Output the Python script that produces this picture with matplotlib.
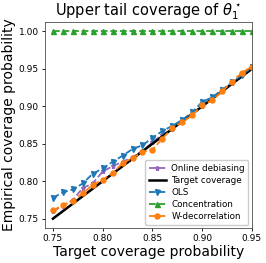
import numpy as np
import matplotlib
matplotlib.use("Agg")
import matplotlib.pyplot as plt

# target coverage levels
target = [0.75, 0.76, 0.77, 0.78, 0.79, 0.80, 0.81, 0.82, 0.83, 0.84, 0.85,
          0.86, 0.87, 0.88, 0.89, 0.90, 0.91, 0.92, 0.93, 0.94, 0.95]

online_debiasing = [0.760, 0.767, 0.775, 0.791, 0.797, 0.813, 0.820, 0.826, 0.832, 0.840, 0.852,
                    0.862, 0.870, 0.880, 0.890, 0.901, 0.910, 0.921, 0.931, 0.943, 0.953]
ols = [0.778, 0.785, 0.789, 0.797, 0.810, 0.817, 0.826, 0.834, 0.843, 0.848, 0.858,
       0.867, 0.874, 0.882, 0.892, 0.906, 0.912, 0.922, 0.932, 0.942, 0.952]
concentration = [1.0] * len(target)
w_decorrelation = [0.761, 0.768, 0.774, 0.784, 0.795, 0.802, 0.811, 0.824, 0.831, 0.839, 0.842,
                   0.857, 0.871, 0.879, 0.888, 0.902, 0.908, 0.920, 0.933, 0.945, 0.953]

fig = plt.figure(figsize=(2.66, 2.63), dpi=100)
ax = fig.add_axes([0.169, 0.133, 0.778, 0.783])

ms = 3.6
ax.plot(target, online_debiasing, '--*', color='tab:purple', ms=ms, lw=1.3, label='Online debiasing')
ax.plot(target, target, '-', color='black', lw=1.8, label='Target coverage')
ax.plot(target, ols, '--v', color='tab:blue', ms=ms, lw=1.3, label='OLS')
ax.plot(target, concentration, '--^', color='tab:green', ms=ms, lw=1.3, label='Concentration')
ax.plot(target, w_decorrelation, '--o', color='tab:orange', ms=ms, lw=1.3, label='W-decorrelation')

ax.set_xlim(0.742, 0.95)
ax.set_ylim(0.7375, 1.0125)
ax.set_xticks([0.75, 0.80, 0.85, 0.90, 0.95])
ax.set_yticks([0.75, 0.80, 0.85, 0.90, 0.95, 1.00])
ax.tick_params(labelsize=6.5, length=2.5, width=0.6, pad=2)
for s in ax.spines.values():
    s.set_linewidth(0.6)
    s.set_color('0.3')

ax.set_title(r'Upper tail coverage of $\theta_1^\star$', fontsize=10.5, pad=3)
ax.set_xlabel('Target coverage probability', fontsize=10, labelpad=1)
ax.set_ylabel('Empirical coverage probability', fontsize=10, labelpad=2)
ax.legend(loc='lower right', fontsize=6.3, handlelength=2.0, borderpad=0.4,
          labelspacing=0.35, handletextpad=0.6, borderaxespad=0.4, framealpha=1)

fig.savefig('out.png', dpi=100)
